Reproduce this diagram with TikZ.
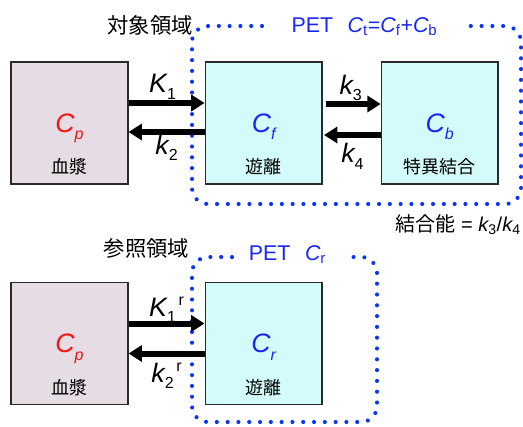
\documentclass[tikz,border=0pt]{standalone}
\usepackage{fontspec}
\setmainfont{Liberation Sans}
\newfontfamily\jpfont{Noto Sans CJK JP}
\usetikzlibrary{arrows.meta,positioning,calc}
\definecolor{plasmabg}{HTML}{E6DCE4}
\definecolor{tissuebg}{HTML}{D4FBFB}
\definecolor{petblue}{HTML}{1A26F5}
\definecolor{dotblue}{HTML}{0C36F2}
\definecolor{concred}{HTML}{F51414}
\definecolor{boxline}{HTML}{2A2A2A}
\tikzset{
  plasmabox/.style={draw=boxline,fill=plasmabg,line width=1.1pt,
                    minimum width=87.5pt,minimum height=91.5pt,inner sep=0pt},
  tissuebox/.style={plasmabox,fill=tissuebg},
  conclab/.style={font=\fontsize{20}{24}\selectfont\itshape,inner sep=0pt,anchor=base},
  jplab/.style={font=\jpfont\fontsize{13.5}{16}\selectfont,inner sep=0pt},
  regionlab/.style={font=\jpfont\fontsize{16}{19}\selectfont,inner sep=0pt},
  petlab/.style={font=\fontsize{16}{19}\selectfont,text=petblue,inner sep=0pt,anchor=base},
  ratelab/.style={font=\fontsize{20}{24}\selectfont\itshape,inner sep=0pt,anchor=base},
  ratearr/.style={-{Triangle[length=10pt,width=12pt]},line width=4.5pt},
  petzone/.style={draw=dotblue,line width=3.1pt,line cap=round,
                  dash pattern=on 0pt off 8.1pt,rounded corners=12pt}
}
\newcommand{\conc}[2]{#1\raisebox{-5.5pt}{\fontsize{12}{14}\selectfont #2}}
\newcommand{\ratesym}[2]{#1\raisebox{-5pt}{\fontsize{12}{14}\selectfont\upshape #2}}
\newcommand{\refmark}{\raisebox{8pt}{\fontsize{12}{14}\selectfont\upshape\,r}}

\begin{document}
\begin{tikzpicture}[x=0.75pt,y=-0.75pt,>=Latex]
  \useasboundingbox (0,0) rectangle (523,426);

  \draw[petzone] (262,26) -| (192,204) -| (521,26) -- (462,26);
  \draw[petzone] (232,257) -| (192,422) -| (377,257) -- (345,257);

  \node[plasmabox] (plasmaA) at (69.5,123) {};
  \node[tissuebox,right=57pt of plasmaA] (freeA) {};
  \node[tissuebox,right=43.5pt of freeA] (boundA) {};
  \node[plasmabox] (plasmaB) at (69.5,343.5) {};
  \node[tissuebox,right=57pt of plasmaB] (refB) {};

  \node[conclab,text=concred] (cpA) at ([yshift=-7pt]plasmaA.center) {\conc{C}{p}};
  \node[conclab,text=petblue] (cfA) at ([yshift=-7pt]freeA.center) {\conc{C}{f}};
  \node[conclab,text=petblue] (cbA) at ([yshift=-7pt]boundA.center) {\conc{C}{b}};
  \node[conclab,text=concred] (cpB) at ([yshift=-7pt]plasmaB.center) {\conc{C}{p}};
  \node[conclab,text=petblue] (crB) at ([yshift=-7pt]refB.center) {\conc{C}{r}};

  \node[jplab] (plasmaAname) at ([yshift=13.5pt]plasmaA.south) {血漿};
  \node[jplab] (freeAname) at ([yshift=13.5pt]freeA.south) {遊離};
  \node[jplab] (boundAname) at ([yshift=13.5pt]boundA.south) {特異結合};
  \node[jplab] (plasmaBname) at ([yshift=13.5pt]plasmaB.south) {血漿};
  \node[jplab] (refBname) at ([yshift=13.5pt]refB.south) {遊離};

  \draw[ratearr] ([yshift=15pt]plasmaA.east) -- ([yshift=15pt]freeA.west)
    node[ratelab,midway,xshift=-3pt,yshift=8pt] (K1A) {\ratesym{K}{1}};
  \draw[ratearr] ([yshift=-6.75pt]freeA.west) -- ([yshift=-6.75pt]plasmaA.east)
    node[ratelab,midway,yshift=-16.5pt] (k2A) {\ratesym{k}{2}};
  \draw[ratearr] ([xshift=2.5pt,yshift=14.25pt]freeA.east) -- ([yshift=14.25pt]boundA.west)
    node[ratelab,midway,xshift=-2pt,yshift=7.5pt] (k3A) {\ratesym{k}{3}};
  \draw[ratearr] ([yshift=-9pt]boundA.west) -- ([xshift=1pt,yshift=-9pt]freeA.east)
    node[ratelab,midway,yshift=-20.5pt] (k4A) {\ratesym{k}{4}};

  \draw[ratearr] ([yshift=15pt]plasmaB.east) -- ([yshift=15pt]refB.west)
    node[ratelab,midway,yshift=5.5pt] (K1B) {\ratesym{K}{1}\refmark};
  \draw[ratearr] ([yshift=-7.5pt]refB.west) -- ([yshift=-7.5pt]plasmaB.east)
    node[ratelab,midway,yshift=-21.5pt] (k2B) {\ratesym{k}{2}\refmark};

  \node[regionlab] (targetname) at (150,25) {対象領域};
  \node[regionlab] (refname) at (146.5,248) {参照領域};
  \node[petlab] (petA) at (364.5,32) {PET\hspace{11pt}{\itshape C}\textsubscript{t}={\itshape C}\textsubscript{f}+{\itshape C}\textsubscript{b}};
  \node[petlab] (petB) at (287.5,260.5) {PET\hspace{11pt}{\itshape C}\textsubscript{r}};
  \node[inner sep=0pt,anchor=base east,font=\fontsize{15}{18}\selectfont] (bindpot) at (521,231)
    {{\jpfont 結合能} = {\itshape k}\textsubscript{3}/{\itshape k}\textsubscript{4}};
\end{tikzpicture}
\end{document}
